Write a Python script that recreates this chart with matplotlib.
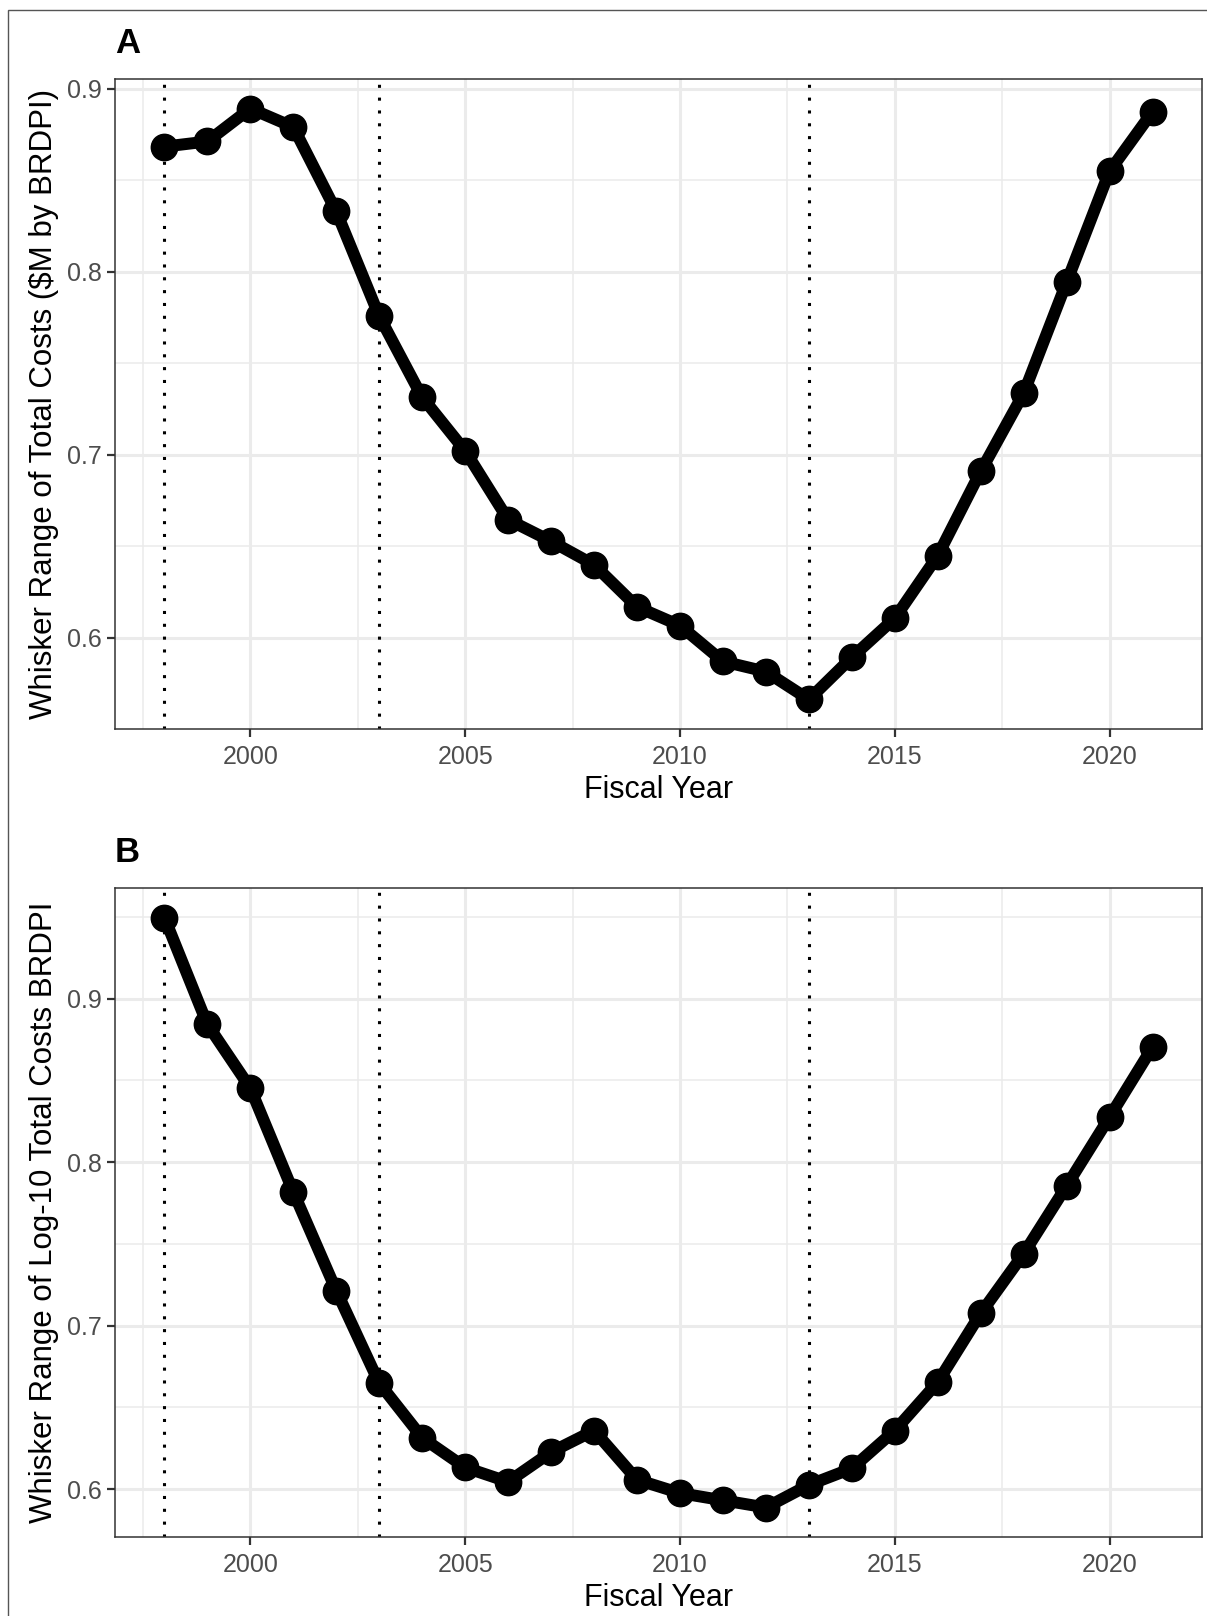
import numpy as np
import matplotlib
matplotlib.use("Agg")
import matplotlib.pyplot as plt
from matplotlib.patches import Rectangle
from matplotlib.ticker import MultipleLocator

plt.rcParams['font.family'] = ['Liberation Sans', 'DejaVu Sans']

years = list(range(1998, 2022))

# panel A: whisker range of total costs ($M by BRDPI)
range_a = [0.8685, 0.8713, 0.8893, 0.8792, 0.8331, 0.7758, 0.7315, 0.7022,
           0.6646, 0.6528, 0.6399, 0.6169, 0.6067, 0.5871, 0.5815, 0.5663,
           0.5893, 0.6107, 0.6449, 0.6910, 0.7337, 0.7944, 0.8551, 0.8876]

# panel B: whisker range of log-10 total costs
range_b = [0.9497, 0.8843, 0.8453, 0.7818, 0.7214, 0.6648, 0.6314, 0.6132,
           0.6044, 0.6226, 0.6358, 0.6057, 0.5975, 0.5931, 0.5887, 0.6025,
           0.6126, 0.6358, 0.6654, 0.7075, 0.7440, 0.7855, 0.8277, 0.8704]

vlines = [1998, 2003, 2013]

panels = [
    ('A', range_a, 'Whisker Range of Total Costs ($M by BRDPI)'),
    ('B', range_b, 'Whisker Range of Log-10 Total Costs BRDPI'),
]

W, H = 1207, 1616
fig = plt.figure(figsize=(W / 100, H / 100), dpi=100)

# outer frame (only top and left visible in the original)
fig.patches.append(Rectangle((8 / W, -0.1), 1.2, 1 - 10 / H + 0.1,
                             transform=fig.transFigure, fill=False,
                             edgecolor='#555555', linewidth=1.0))

# axes boxes in pixel coords: left, top, right, bottom
boxes = [(115, 79, 1202, 729), (115, 888, 1202, 1537)]

for (label, vals, ylab), (l, t, r, b) in zip(panels, boxes):
    ax = fig.add_axes([l / W, 1 - b / H, (r - l) / W, (b - t) / H])
    ax.set_axisbelow(True)

    lo, hi = min(vals), max(vals)
    pad = 0.05 * (hi - lo)
    ax.set_ylim(lo - pad, hi + pad)
    xpad = 0.05 * (years[-1] - years[0])
    ax.set_xlim(years[0] - xpad, years[-1] + xpad)

    ax.xaxis.set_major_locator(MultipleLocator(5))
    ax.xaxis.set_minor_locator(MultipleLocator(2.5))
    ax.yaxis.set_major_locator(MultipleLocator(0.1))
    ax.yaxis.set_minor_locator(MultipleLocator(0.05))
    ax.yaxis.set_major_formatter(lambda v, p: f'{v:.1f}')
    ax.grid(which='major', color='#EBEBEB', linewidth=2.2)
    ax.grid(which='minor', color='#EBEBEB', linewidth=1.1)

    for v in vlines:
        ax.axvline(v, color='black', linewidth=2.2, linestyle=(0, (1, 3.2)))

    ax.plot(years, vals, color='black', linewidth=8.6, marker='o',
            markersize=19, solid_capstyle='round', solid_joinstyle='round')

    for s in ax.spines.values():
        s.set_color('#333333')
        s.set_linewidth(1.1)
    ax.tick_params(which='major', length=5.5, width=1.6, color='#333333',
                   labelsize=18, labelcolor='#4D4D4D', pad=4)
    ax.tick_params(axis='x', which='major', pad=6)
    ax.tick_params(which='minor', length=0)

    ax.set_xlabel('Fiscal Year', fontsize=22, color='black', labelpad=4)
    ax.set_ylabel(ylab, fontsize=22.5, color='black', labelpad=6)

    fig.text(l / W, 1 - (t - 26) / H, label, fontsize=25, fontweight='bold',
             ha='left', va='baseline')

fig.savefig('out.png', dpi=100)
